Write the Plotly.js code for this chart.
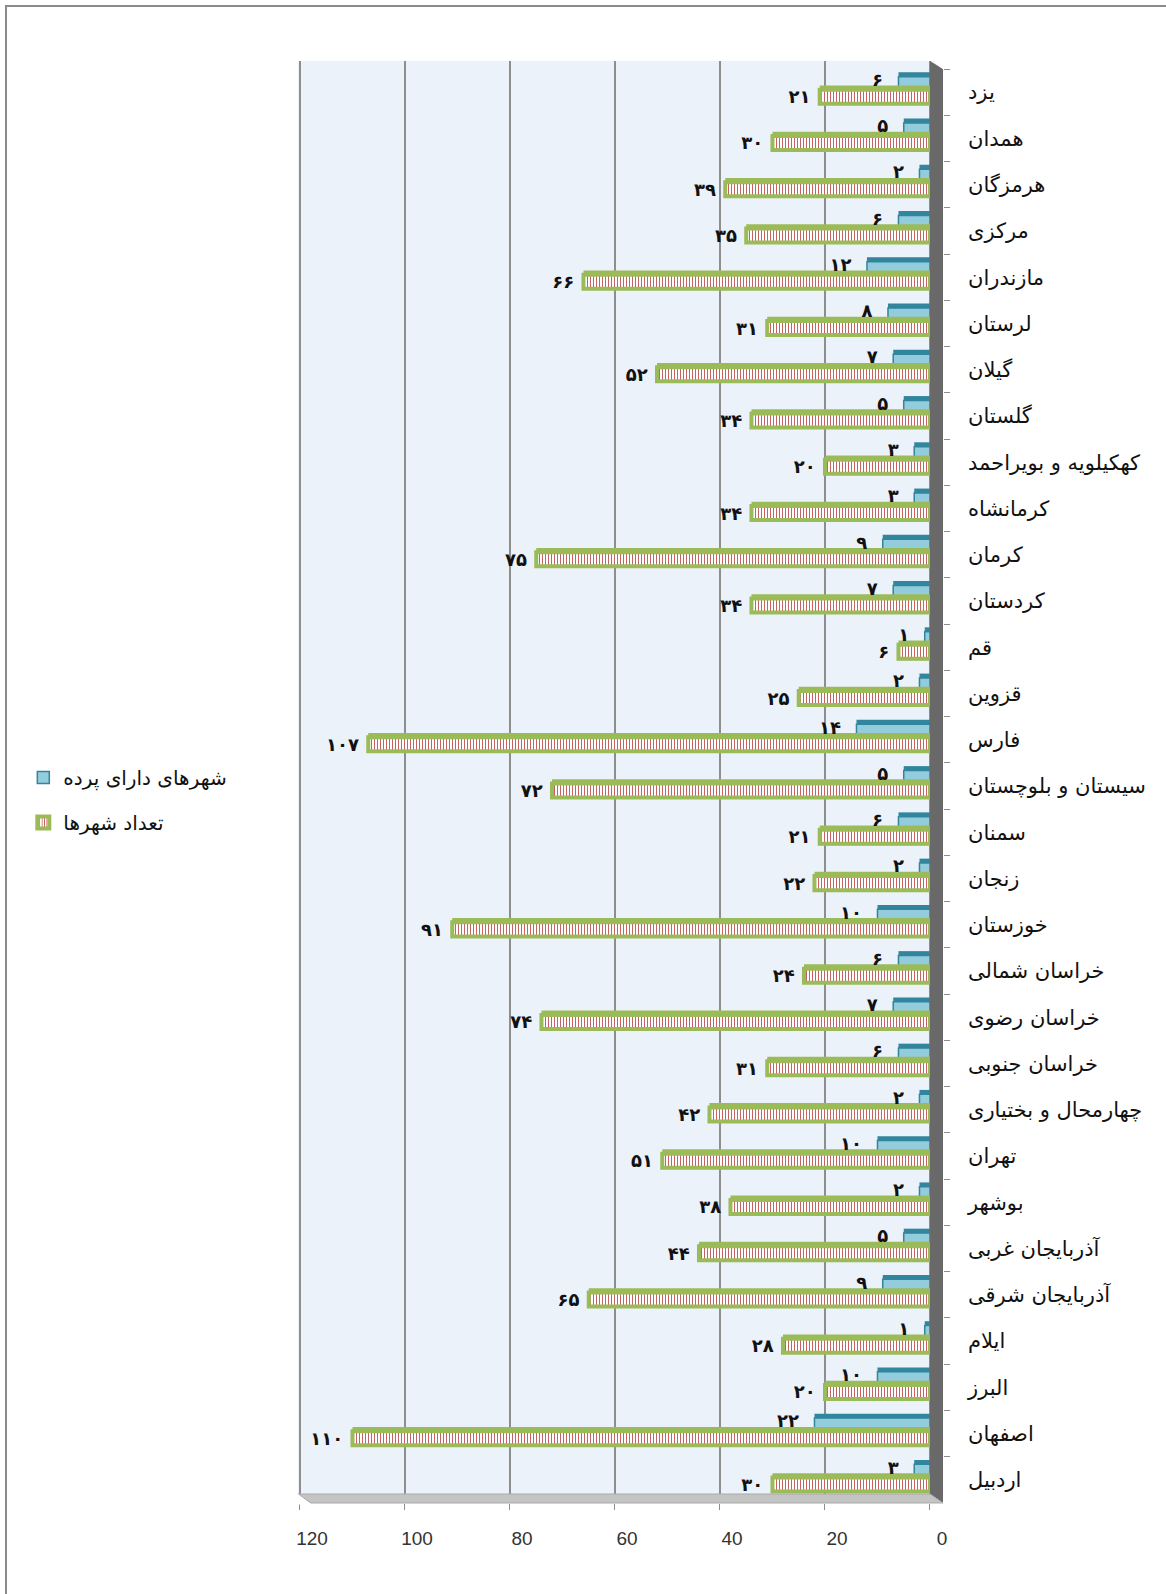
<!DOCTYPE html>
<html>
<head>
<meta charset="utf-8">
<script src="https://cdn.plot.ly/plotly-3.0.1.min.js"></script>
<style>
  html, body { margin: 0; padding: 0; background: #fff; overflow: hidden; }
  #wrap { position: relative; width: 1166px; height: 1594px; }
  #frame { position: absolute; left: 5px; top: 5px; width: 1300px; height: 1700px;
           border: 2px solid #8a8a8a; box-sizing: border-box; pointer-events: none; }
  #chart { position: absolute; left: 0; top: 0; width: 1166px; height: 1594px; }
</style>
</head>
<body>
<div id="wrap">
  <div id="chart"></div>
  <div id="frame"></div>
</div>
<script>
// ---- data (top to bottom as in the chart) ----
const provinces = [
  'یزد', 'همدان', 'هرمزگان', 'مرکزی', 'مازندران', 'لرستان', 'گیلان', 'گلستان',
  'کهکیلویه و بویراحمد', 'کرمانشاه', 'کرمان', 'کردستان', 'قم', 'قزوین', 'فارس',
  'سیستان و بلوچستان', 'سمنان', 'زنجان', 'خوزستان', 'خراسان شمالی', 'خراسان رضوی',
  'خراسان جنوبی', 'چهارمحال و بختیاری', 'تهران', 'بوشهر', 'آذربایجان غربی',
  'آذربایجان شرقی', 'ایلام', 'البرز', 'اصفهان', 'اردبیل'
];
const citiesWithScreen = [6, 5, 2, 6, 12, 8, 7, 5, 3, 3, 9, 7, 1, 2, 14, 5, 6, 2, 10, 6, 7, 6, 2, 10, 2, 5, 9, 1, 10, 22, 3];
const totalCities = [21, 30, 39, 35, 66, 31, 52, 34, 20, 34, 75, 34, 6, 25, 107, 72, 21, 22, 91, 24, 74, 31, 42, 51, 38, 44, 65, 28, 20, 110, 30];
const seriesNames = ['شهرهای دارای پرده', 'تعداد شهرها'];
const xTickVals = [0, 20, 40, 60, 80, 100, 120];

const faDigits = '۰۱۲۳۴۵۶۷۸۹';
const toFa = n => String(n).replace(/\d/g, d => faDigits[d]);

const labelFont = {family: 'DejaVu Sans, Liberation Sans, sans-serif', size: 18, color: '#111', weight: 700};

const traces = [
  // blue: dark top face (3D look)
  {
    type: 'bar', orientation: 'h', y: provinces, x: citiesWithScreen,
    offset: -0.43, width: 0.345,
    marker: {color: '#31859c', line: {width: 0}},
    showlegend: false, hoverinfo: 'skip'
  },
  // blue: front face
  {
    type: 'bar', orientation: 'h', y: provinces, x: citiesWithScreen,
    name: seriesNames[0], legendgroup: 'a',
    offset: -0.335, width: 0.25,
    marker: {color: '#93cddd', line: {color: '#31859c', width: 1.5}}
  },
  // green: top face / body
  {
    type: 'bar', orientation: 'h', y: provinces, x: totalCities,
    offset: -0.145, width: 0.424,
    marker: {color: '#9bbb59', line: {width: 0}},
    showlegend: false, hoverinfo: 'skip'
  },
  // green: striped front
  {
    type: 'bar', orientation: 'h', y: provinces, x: totalCities,
    name: seriesNames[1], legendgroup: 'b',
    offset: -0.052, width: 0.303,
    marker: {
      color: '#ffffff',
      line: {color: '#9bbb59', width: 4},
      pattern: {shape: '|', fgcolor: '#c0504d', bgcolor: '#ffffff', fillmode: 'replace', size: 3, solidity: 0.3}
    },
    text: totalCities.map(n => toFa(n) + '\u00A0'), textposition: 'outside',
    constraintext: 'none', cliponaxis: false,
    textfont: labelFont
  },
  // blue value labels, drawn last so they sit on top
  {
    type: 'bar', orientation: 'h', y: provinces, x: citiesWithScreen,
    offset: -0.39, width: 0.231,
    marker: {color: 'rgba(0,0,0,0)', line: {width: 0}},
    text: citiesWithScreen.map(n => toFa(n) + '\u00A0\u00A0'), textposition: 'outside',
    constraintext: 'none', cliponaxis: false,
    textfont: labelFont,
    showlegend: false, hoverinfo: 'skip'
  }
];

const layout = {
  width: 1166, height: 1594,
  margin: {l: 298, r: 223, t: 61, b: 91},
  paper_bgcolor: 'rgba(0,0,0,0)',
  plot_bgcolor: '#ebf2fa',
  barmode: 'overlay',
  showlegend: true,
  legend: {
    xref: 'container', yref: 'container',
    x: 0.02, y: 0.5245, xanchor: 'left', yanchor: 'top',
    bgcolor: 'rgba(0,0,0,0)',
    traceorder: 'grouped', tracegroupgap: 16,
    font: {family: 'DejaVu Sans, Liberation Sans, sans-serif', size: 20, color: '#111'}
  },
  xaxis: {
    range: [120.38, -2.48],
    tickmode: 'array', tickvals: xTickVals, ticktext: xTickVals.map(String),
    showgrid: true, gridcolor: '#8e8e8e', gridwidth: 2,
    zeroline: false, showline: false,
    ticks: 'outside', ticklen: 6, tickcolor: '#8e8e8e', tickwidth: 1,
    ticklabelshift: -12, ticklabelstandoff: 12,
    tickfont: {family: 'Liberation Sans, Arial, sans-serif', size: 19, color: '#333'},
    fixedrange: true
  },
  yaxis: {
    type: 'category',
    side: 'right',
    range: [30.5, -0.673],
    showgrid: false, zeroline: false, showline: false,
    ticks: 'outside', tickson: 'boundaries', ticklen: 6, tickcolor: '#8e8e8e', tickwidth: 1,
    ticklabelstandoff: 24,
    tickfont: {family: 'DejaVu Sans, Liberation Sans, sans-serif', size: 21, color: '#111'},
    fixedrange: true
  },
  shapes: [
    // right side wall
    {type: 'path', xref: 'paper', yref: 'paper', layer: 'above',
     path: 'M 0.9798 1 L 1 0.99445 L 1 0 L 0.9798 0.00624 Z',
     fillcolor: '#696969', line: {width: 0}},
    // floor
    {type: 'path', xref: 'paper', yref: 'paper', layer: 'above',
     path: 'M 0 0.00624 L 0.9798 0.00624 L 1 0 L 0.0202 0 Z',
     fillcolor: '#c4c4c4', line: {color: '#a9a9a9', width: 1}},
    // white corner under floor
    {type: 'path', xref: 'paper', yref: 'paper', layer: 'above',
     path: 'M -0.002 -0.001 L -0.002 0.00624 L 0 0.00624 L 0.0202 -0.001 Z',
     fillcolor: '#ffffff', line: {width: 0}},
    // white corner above wall
    {type: 'path', xref: 'paper', yref: 'paper', layer: 'above',
     path: 'M 0.9798 1.001 L 1.002 1.001 L 1.002 0.99445 L 1 0.99445 Z',
     fillcolor: '#ffffff', line: {width: 0}}
  ]
};

Plotly.newPlot('chart', traces, layout, {displayModeBar: false, staticPlot: true});
</script>
</body>
</html>
